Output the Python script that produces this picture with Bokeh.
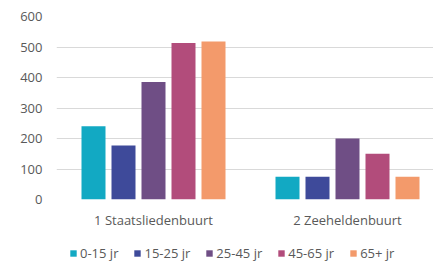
from bokeh.plotting import figure
from bokeh.layouts import column
from bokeh.models import ColumnDataSource, Range1d, FixedTicker, Legend, LegendItem
from bokeh.transform import dodge
from bokeh.embed import file_html
from bokeh.resources import INLINE

categories = ["1 Staatsliedenbuurt", "2 Zeeheldenbuurt"]
series = ["0-15 jr", "15-25 jr", "25-45 jr", "45-65 jr", "65+ jr"]
values = {
    "0-15 jr": [240, 75],
    "15-25 jr": [177, 75],
    "25-45 jr": [385, 200],
    "45-65 jr": [513, 150],
    "65+ jr": [518, 75],
}
colors = ["#12A9C3", "#3E4A9A", "#6F4E85", "#B24C7B", "#F39A6B"]
y_ticks = [0, 100, 200, 300, 400, 500, 600]

FONT = "Open Sans"
GRAY = "#595959"

data = {"x": [i + 0.5 for i in range(len(categories))]}
for s in series:
    data[s] = values[s]
src = ColumnDataSource(data)

p = figure(width=433, height=232, output_backend="svg", toolbar_location=None,
           x_range=Range1d(0, 377 / 194), y_range=Range1d(0, 600))
p.min_border_left = 56
p.min_border_right = 0
p.min_border_top = 16
p.min_border_bottom = 33
p.outline_line_color = None
p.background_fill_color = "white"
p.border_fill_color = "white"

bw = 24 / 194
step = 30 / 194
for i, (s, c) in enumerate(zip(series, colors)):
    off = (i - 2) * step
    p.vbar(x=dodge("x", off), top=s, width=bw, source=src,
           fill_color=c, line_color=None)

p.xgrid.visible = False
p.ygrid.grid_line_color = "#D9D9D9"
p.ygrid.grid_line_width = 1
p.ygrid.ticker = FixedTicker(ticks=y_ticks)

p.yaxis.ticker = FixedTicker(ticks=y_ticks)
p.yaxis.axis_line_color = None
p.yaxis.major_tick_line_color = None
p.yaxis.minor_tick_line_color = None
p.yaxis.major_label_text_font = FONT
p.yaxis.major_label_text_font_size = "13px"
p.yaxis.major_label_text_color = GRAY
p.yaxis.major_label_standoff = 8

p.xaxis.ticker = FixedTicker(ticks=data["x"])
p.xaxis.major_label_overrides = {x: c for x, c in zip(data["x"], categories)}
p.xaxis.axis_line_color = None
p.xaxis.major_tick_line_color = None
p.xaxis.minor_tick_line_color = None
p.xaxis.major_label_text_font = FONT
p.xaxis.major_label_text_font_size = "13px"
p.xaxis.major_label_text_color = GRAY
p.xaxis.major_label_standoff = 5

# legend strip (swatch renderers sit outside the visible range)
lg = figure(width=433, height=32, output_backend="svg", toolbar_location=None,
            x_axis_type=None, y_axis_type=None,
            x_range=Range1d(0, 1), y_range=Range1d(0, 1))
lg.min_border_left = 56
lg.min_border_right = 0
lg.min_border_top = 0
lg.min_border_bottom = 0
lg.outline_line_color = None
lg.xgrid.visible = False
lg.ygrid.visible = False
items = []
for s, c in zip(series, colors):
    r = lg.vbar(x=[-10], top=[0], width=0.1, fill_color=c, line_color=None)
    items.append(LegendItem(label=s, renderers=[r]))

legend = Legend(items=items, orientation="horizontal", location=(13, 2))
legend.label_text_font = FONT
legend.label_text_font_size = "13px"
legend.label_text_color = GRAY
legend.glyph_width = 8
legend.glyph_height = 8
legend.label_standoff = 3
legend.spacing = 15
legend.padding = 0
legend.margin = 0
legend.label_height = 14
legend.border_line_color = None
legend.background_fill_alpha = 0
lg.add_layout(legend, "center")

layout = column(p, lg, spacing=0)
open("out.html", "w").write(file_html(layout, INLINE))
